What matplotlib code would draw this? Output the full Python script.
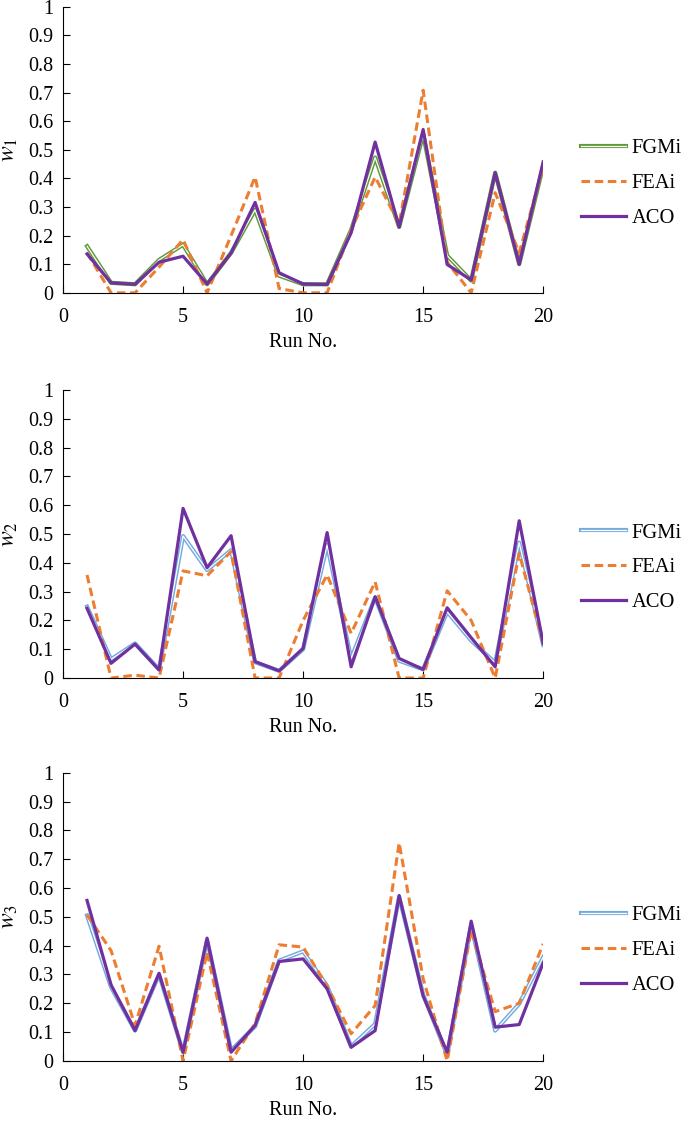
import matplotlib
matplotlib.use('Agg')
import matplotlib.pyplot as plt
from matplotlib import rcParams

rcParams['font.family'] = 'Liberation Serif'
rcParams['mathtext.fontset'] = 'stix'
rcParams['font.size'] = 14

runs = list(range(1, 21))

# w1
w1_fgmi = [0.163, 0.035, 0.03, 0.115, 0.168, 0.03, 0.14, 0.29, 0.06, 0.03,
           0.03, 0.22, 0.473, 0.23, 0.554, 0.13, 0.043, 0.42, 0.10, 0.444]
w1_feai = [0.14, 0.0, 0.0, 0.09, 0.186, 0.0, 0.20, 0.405, 0.015, 0.0,
           0.0, 0.22, 0.405, 0.24, 0.708, 0.107, 0.0, 0.35, 0.14, 0.44]
w1_aco = [0.136, 0.035, 0.03, 0.107, 0.128, 0.031, 0.139, 0.316, 0.07, 0.031,
          0.029, 0.21, 0.527, 0.23, 0.571, 0.099, 0.045, 0.42, 0.10, 0.458]

# w2
w2_fgmi = [0.248, 0.065, 0.12, 0.03, 0.493, 0.375, 0.444, 0.055, 0.025, 0.10,
           0.462, 0.068, 0.28, 0.06, 0.03, 0.23, 0.13, 0.053, 0.47, 0.115]
w2_feai = [0.358, 0.0, 0.01, 0.0, 0.372, 0.355, 0.439, 0.0, 0.0, 0.20,
           0.358, 0.155, 0.334, 0.0, 0.0, 0.303, 0.20, 0.0, 0.433, 0.12]
w2_aco = [0.242, 0.051, 0.118, 0.028, 0.589, 0.383, 0.494, 0.057, 0.025, 0.103,
          0.505, 0.039, 0.282, 0.068, 0.03, 0.244, 0.14, 0.039, 0.546, 0.12]

# w3
w3_fgmi = [0.505, 0.256, 0.105, 0.30, 0.03, 0.42, 0.036, 0.12, 0.348, 0.38,
           0.26, 0.05, 0.128, 0.57, 0.23, 0.02, 0.47, 0.105, 0.198, 0.36]
w3_feai = [0.507, 0.383, 0.123, 0.398, 0.0, 0.377, 0.0, 0.13, 0.403, 0.395,
           0.26, 0.094, 0.192, 0.757, 0.285, 0.0, 0.453, 0.171, 0.20, 0.406]
w3_aco = [0.557, 0.264, 0.105, 0.304, 0.03, 0.426, 0.03, 0.123, 0.345, 0.354,
          0.25, 0.047, 0.105, 0.574, 0.225, 0.03, 0.485, 0.117, 0.126, 0.34]

yticklabels = ['0', '0.1', '0.2', '0.3', '0.4', '0.5', '0.6', '0.7', '0.8', '0.9', '1']

panels = [
    (r'$w_1$', w1_fgmi, w1_feai, w1_aco, '#5E9A3A'),
    (r'$w_2$', w2_fgmi, w2_feai, w2_aco, '#74AADE'),
    (r'$w_3$', w3_fgmi, w3_feai, w3_aco, '#74AADE'),
]

fig = plt.figure(figsize=(6.85, 11.22), dpi=100)
boxes = [[0.092, 0.739, 0.701, 0.255],
         [0.092, 0.3957, 0.701, 0.2567],
         [0.092, 0.0545, 0.701, 0.2567]]

for box, (lab, fg, fe, ac, fgcol) in zip(boxes, panels):
    ax = fig.add_axes(box)
    outer, = ax.plot(runs, fg, color=fgcol, lw=3.0)
    inner, = ax.plot(runs, fg, color='white', lw=0.9)
    l2, = ax.plot(runs, fe, color='#ED7D31', lw=2.2, ls=(0, (2.8, 1.5)))
    l3, = ax.plot(runs, ac, color='#7030A0', lw=2.3)
    ax.set_xlim(0, 20)
    ax.set_ylim(0, 1)
    ax.set_xticks([0, 5, 10, 15, 20])
    ax.set_yticks([i / 10 for i in range(11)])
    ax.set_yticklabels(yticklabels)
    ax.spines['top'].set_visible(False)
    ax.spines['right'].set_visible(False)
    ax.tick_params(direction='in', length=5, labelsize=14.5)
    ax.tick_params(axis='y', pad=7)
    ax.tick_params(axis='x', pad=11)
    ax.set_xlabel('Run No.', fontsize=14.5, labelpad=4)
    ax.set_ylabel(lab, fontsize=17, labelpad=6)
    ax.legend([(outer, inner), l2, l3], ['FGMi', 'FEAi', 'ACO'],
              loc='center left', bbox_to_anchor=(1.0, 0.383), frameon=False,
              fontsize=14.8, handlelength=2.2, labelspacing=0.75,
              handletextpad=0.25, borderaxespad=1.45)

plt.savefig('out.png', dpi=100)
